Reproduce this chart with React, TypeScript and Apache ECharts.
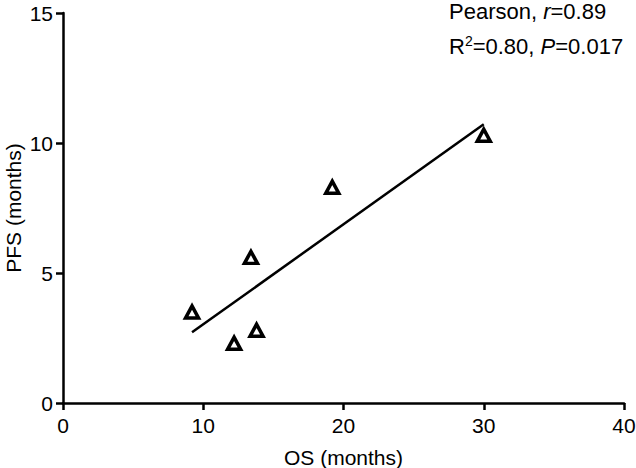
import React, { useEffect, useRef } from "react";
import * as echarts from "echarts";

const osMonths = [9.2, 12.2, 13.8, 13.4, 19.2, 30.0];
const pfsMonths = [3.5, 2.3, 2.8, 5.6, 8.3, 10.3];
const fitX = [9.2, 30.0];
const fitY = [2.72, 10.72];
const xTicks = [0, 10, 20, 30, 40];
const yTicks = [0, 5, 10, 15];

const FONT = "Liberation Sans, Arial, Helvetica, sans-serif";

export default function App() {
  const ref = useRef<HTMLDivElement>(null);
  useEffect(() => {
    document.body.style.margin = "0";
    document.body.style.overflow = "hidden";
    if (!ref.current) return;
    const chart = echarts.init(ref.current, undefined, { renderer: "svg" });
    const axisCommon = {
      axisLine: { show: true, lineStyle: { color: "#000", width: 2.5 } },
      axisTick: { show: true, length: 7, lineStyle: { color: "#000", width: 2.5 } },
      splitLine: { show: false },
      nameLocation: "middle" as const,
      nameMoveOverlap: false,
      nameTextStyle: { color: "#000", fontSize: 21, fontFamily: FONT, lineHeight: 20 },
      axisLabel: { color: "#000", fontSize: 21, fontFamily: FONT },
    };
    chart.setOption({
      animation: false,
      backgroundColor: "#fff",
      grid: {
        left: 63,
        right: 12,
        top: 13,
        bottom: 65,
        containLabel: false,
        outerBoundsMode: "none",
      },
      xAxis: {
        ...axisCommon,
        type: "value",
        min: xTicks[0],
        max: xTicks[xTicks.length - 1],
        interval: 10,
        name: "OS (months)",
        nameGap: 44,
        axisLabel: { ...axisCommon.axisLabel, margin: 12 },
      },
      yAxis: {
        ...axisCommon,
        type: "value",
        min: yTicks[0],
        max: yTicks[yTicks.length - 1],
        interval: 5,
        name: "PFS (months)",
        nameGap: 40,
        axisLabel: { ...axisCommon.axisLabel, margin: 10 },
      },
      series: [
        {
          type: "line",
          data: fitX.map((x, i) => [x, fitY[i]]),
          symbol: "none",
          lineStyle: { color: "#000", width: 2.5 },
          z: 2,
        },
        {
          type: "scatter",
          data: osMonths.map((x, i) => [x, pfsMonths[i]]),
          symbol: "triangle",
          symbolSize: [13, 12],
          itemStyle: { color: "#fff", borderColor: "#000", borderWidth: 3.5, opacity: 1 },
          z: 3,
        },
      ],
      graphic: [
        {
          type: "text",
          left: 449,
          top: 0,
          style: {
            text: "Pearson, {i|r}=0.89",
            fontSize: 22,
            lineHeight: 20,
            fontFamily: FONT,
            fill: "#000",
            rich: { i: { fontStyle: "italic", fontSize: 22, lineHeight: 20, fontFamily: FONT, fill: "#000" } },
          },
        },
        {
          type: "text",
          left: 449,
          top: 34,
          style: {
            text: "R{sup|2}=0.80, {i|P}=0.017",
            fontSize: 22,
            fontFamily: FONT,
            fill: "#000",
            rich: {
              i: { fontStyle: "italic", fontSize: 22, fontFamily: FONT, fill: "#000" },
              sup: { fontSize: 14, fontFamily: FONT, fill: "#000", padding: [0, 0, 10, 0] },
            },
          },
        },
      ],
    });
    return () => chart.dispose();
  }, []);
  return (
    <div
      ref={ref}
      style={{ position: "fixed", left: 0, top: 0, width: 636, height: 468 }}
    />
  );
}
